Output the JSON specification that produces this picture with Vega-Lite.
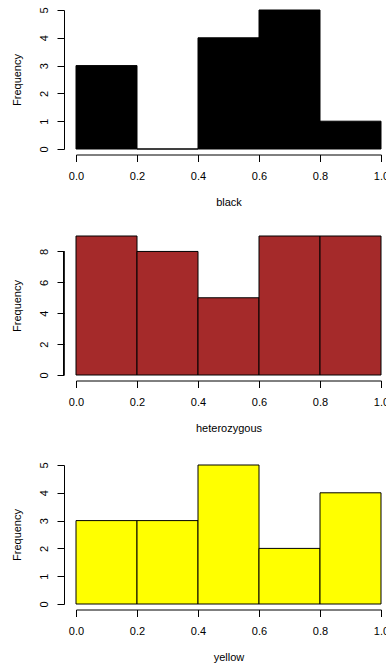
{
  "$schema": "https://vega.github.io/schema/vega-lite/v6.json",
  "padding": {"left": 11, "top": 6, "right": 0, "bottom": 0},
  "spacing": 27,
  "background": "white",
  "config": {
    "view": {"stroke": null},
    "axis": {
      "labelFont": "Liberation Sans", "titleFont": "Liberation Sans",
      "labelFontSize": 11, "titleFontSize": 11, "titleFontWeight": "normal",
      "labelColor": "#000", "titleColor": "#000",
      "domainColor": "#000", "tickColor": "#000", "grid": false,
      "tickSize": 7, "domainWidth": 1, "tickWidth": 1, "labelOverlap": false, "labelFlush": false
    },
    "axisX": {"offset": 5.5, "labelPadding": 9, "titlePadding": 15},
    "axisY": {"offset": 12, "labelAngle": -90, "labelPadding": 8, "titlePadding": 16}
  },
  "vconcat": [
    {
      "width": 305, "height": 139,
      "data": {"values": [
        {"start": 0, "end": 0.2, "count": 3},
        {"start": 0.2, "end": 0.4, "count": 0},
        {"start": 0.4, "end": 0.6, "count": 4},
        {"start": 0.6, "end": 0.8, "count": 5},
        {"start": 0.8, "end": 1, "count": 1}
      ]},
      "mark": {"type": "bar", "fill": "#000000", "stroke": "#000000", "strokeWidth": 1},
      "encoding": {
        "x": {"field": "start", "type": "quantitative", "scale": {"domain": [0, 1], "nice": false, "zero": false}, "axis": {"title": "black", "values": [0, 0.2, 0.4, 0.6, 0.8, 1], "format": ".1f"}},
        "x2": {"field": "end"},
        "y": {"field": "count", "type": "quantitative", "scale": {"domain": [0, 5], "nice": false}, "axis": {"title": "Frequency", "values": [0, 1, 2, 3, 4, 5]}},
        "y2": {"datum": 0}
      }
    },
    {
      "width": 305, "height": 139,
      "data": {"values": [
        {"start": 0, "end": 0.2, "count": 9},
        {"start": 0.2, "end": 0.4, "count": 8},
        {"start": 0.4, "end": 0.6, "count": 5},
        {"start": 0.6, "end": 0.8, "count": 9},
        {"start": 0.8, "end": 1, "count": 9}
      ]},
      "layer": [
        {
          "mark": {"type": "bar", "fill": "#A52A2A", "stroke": "#000000", "strokeWidth": 1},
          "encoding": {
            "x": {"field": "start", "type": "quantitative", "scale": {"domain": [0, 1], "nice": false, "zero": false}, "axis": {"title": "heterozygous", "values": [0, 0.2, 0.4, 0.6, 0.8, 1], "format": ".1f"}},
            "x2": {"field": "end"},
            "y": {"field": "count", "type": "quantitative", "scale": {"domain": [0, 9], "nice": false}, "axis": {"title": "Frequency", "values": [0, 2, 4, 6, 8], "domain": false}},
            "y2": {"datum": 0}
          }
        },
        {
          "mark": {"type": "rule", "color": "#000000", "strokeWidth": 1},
          "encoding": {
            "x": {"datum": -0.04, "type": "quantitative", "axis": {"title": "heterozygous", "values": [0, 0.2, 0.4, 0.6, 0.8, 1], "format": ".1f"}},
            "y": {"datum": 0, "type": "quantitative", "axis": {"title": "Frequency", "values": [0, 2, 4, 6, 8], "domain": false}},
            "y2": {"datum": 8}
          }
        }
      ]
    },
    {
      "width": 305, "height": 139,
      "data": {"values": [
        {"start": 0, "end": 0.2, "count": 3},
        {"start": 0.2, "end": 0.4, "count": 3},
        {"start": 0.4, "end": 0.6, "count": 5},
        {"start": 0.6, "end": 0.8, "count": 2},
        {"start": 0.8, "end": 1, "count": 4}
      ]},
      "mark": {"type": "bar", "fill": "#FFFF00", "stroke": "#000000", "strokeWidth": 1},
      "encoding": {
        "x": {"field": "start", "type": "quantitative", "scale": {"domain": [0, 1], "nice": false, "zero": false}, "axis": {"title": "yellow", "values": [0, 0.2, 0.4, 0.6, 0.8, 1], "format": ".1f"}},
        "x2": {"field": "end"},
        "y": {"field": "count", "type": "quantitative", "scale": {"domain": [0, 5], "nice": false}, "axis": {"title": "Frequency", "values": [0, 1, 2, 3, 4, 5]}},
        "y2": {"datum": 0}
      }
    }
  ]
}
